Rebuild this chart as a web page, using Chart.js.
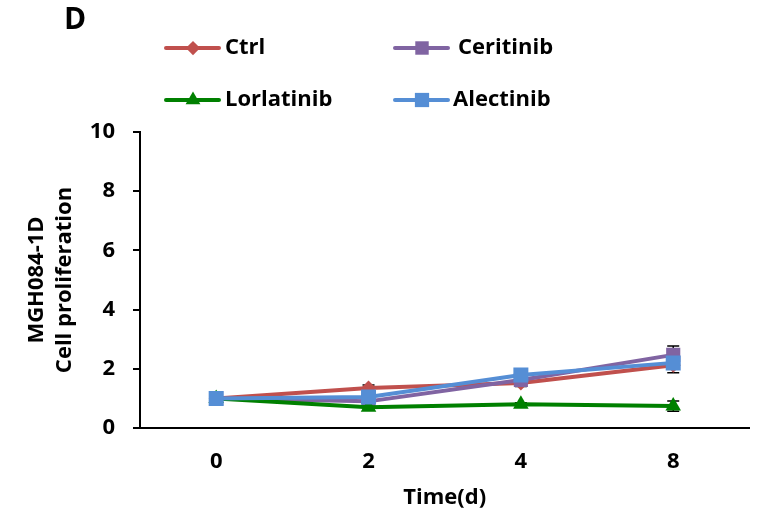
<!DOCTYPE html>
<html>
<head>
<meta charset="utf-8">
<script src="https://cdn.jsdelivr.net/npm/chart.js@4.4.1/dist/chart.umd.min.js"></script>
<style>
  html, body { margin: 0; padding: 0; background: #fff; }
  #wrap { width: 760px; height: 519px; }
</style>
</head>
<body>
<div id="wrap"><canvas id="ctx" width="760" height="519"></canvas></div>
<script>
"use strict";
// values
const days = ["0", "2", "4", "8"];
const ctrl = [1.0, 1.35, 1.52, 2.12];
const ceritinib = [1.0, 0.9, 1.62, 2.47];
const lorlatinib = [1.0, 0.7, 0.8, 0.74];
const alectinib = [1.0, 1.05, 1.79, 2.2];
const ctrlErr = [0, 0.1, 0.12, 0.25];
const ceritinibErr = [0, 0.05, 0.1, 0.3];
const lorlatinibErr = [0, 0.05, 0.05, 0.17];
const alectinibErr = [0, 0.05, 0.05, 0.1];
const yTicks = [0, 2, 4, 6, 8, 10];

const FONT = "'Open Sans'";
const SIZE = 22;

function series(label, data, err, color, style, radius, order) {
  return {
    label: label,
    data: data,
    err: err,
    borderColor: color,
    backgroundColor: color,
    pointBackgroundColor: color,
    pointBorderColor: color,
    pointStyle: style,
    pointRadius: radius,
    pointBorderWidth: 0,
    borderWidth: 4,
    tension: 0,
    order: order
  };
}

const errorBars = {
  id: "errorBars",
  beforeDatasetsDraw(chart) {
    const c = chart.ctx;
    const y = chart.scales.y;
    c.save();
    c.strokeStyle = "#000";
    c.lineWidth = 1.5;
    chart.data.datasets.forEach((ds, i) => {
      const meta = chart.getDatasetMeta(i);
      meta.data.forEach((pt, j) => {
        const e = ds.err[j];
        if (!e) return;
        const top = y.getPixelForValue(ds.data[j] + e);
        const bot = y.getPixelForValue(ds.data[j] - e);
        c.beginPath();
        c.moveTo(pt.x, top); c.lineTo(pt.x, bot);
        c.moveTo(pt.x - 6, top); c.lineTo(pt.x + 6, top);
        c.moveTo(pt.x - 6, bot); c.lineTo(pt.x + 6, bot);
        c.stroke();
      });
    });
    c.restore();
  }
};

// legend in two columns plus panel letter
const legendGrid = {
  id: "legendGrid",
  afterDraw(chart) {
    const c = chart.ctx;
    const cols = [166, 395];
    const rows = [48, 100];
    const gaps = [59, 63, 59, 58];
    c.save();
    c.fillStyle = "#000";
    c.font = "bold 30px " + FONT;
    c.textBaseline = "middle";
    c.fillText("D", 64, 20);
    c.font = "bold " + SIZE + "px " + FONT;
    chart.data.datasets.forEach((ds, k) => {
      const x0 = cols[k % 2];
      const yy = rows[Math.floor(k / 2)];
      c.strokeStyle = ds.borderColor;
      c.lineWidth = 4;
      c.lineCap = "round";
      c.beginPath();
      c.moveTo(x0, yy); c.lineTo(x0 + 53, yy);
      c.stroke();
      c.fillStyle = ds.backgroundColor;
      Chart.helpers.drawPoint(c, { pointStyle: ds.pointStyle, radius: ds.pointRadius * 0.95, borderWidth: 0 }, x0 + 27, yy);
      c.fillStyle = "#000";
      c.fillText(ds.label, x0 + gaps[k], yy);
    });
    c.restore();
  }
};

new Chart(document.getElementById("ctx").getContext("2d"), {
  type: "line",
  data: {
    labels: days,
    datasets: [
      series("Ctrl", ctrl, ctrlErr, "#C0504D", "rectRot", 7.5, 4),
      series("Ceritinib", ceritinib, ceritinibErr, "#8064A2", "rect", 10, 3),
      series("Lorlatinib", lorlatinib, lorlatinibErr, "#008000", "triangle", 9, 2),
      series("Alectinib", alectinib, alectinibErr, "#558ED5", "rect", 10.6, 1)
    ]
  },
  options: {
    responsive: false,
    animation: false,
    layout: { padding: { left: 0, top: 132, right: 8, bottom: 0 } },
    plugins: {
      legend: { display: false },
      tooltip: { enabled: false }
    },
    scales: {
      x: {
        offset: true,
        grid: { display: false, drawTicks: false },
        border: { display: true, color: "#000", width: 2 },
        ticks: { padding: 21, color: "#000", font: { family: FONT, size: SIZE, weight: "bold" } },
        title: {
          display: true, text: "Time(d)", color: "#000", padding: { top: 8, bottom: 8 },
          font: { family: FONT, size: SIZE, weight: "bold" }
        },
        afterFit(s) { s.height = 91; }
      },
      y: {
        min: 0, max: 10,
        afterBuildTicks(s) { s.ticks = yTicks.map(v => ({ value: v })); },
        grid: { drawOnChartArea: false, drawTicks: true, tickLength: 7, color: "#000", lineWidth: 2 },
        border: { display: true, color: "#000", width: 2 },
        ticks: { padding: 18, color: "#000", font: { family: FONT, size: SIZE, weight: "bold" } },
        title: {
          display: true, text: ["MGH084-1D", "Cell proliferation"], color: "#000",
          padding: { top: 23, bottom: 0 },
          font: { family: FONT, size: SIZE, weight: "bold", lineHeight: 1.27 }
        },
        afterFit(s) { s.width = 140; }
      }
    }
  },
  plugins: [errorBars, legendGrid]
});
</script>
</body>
</html>
